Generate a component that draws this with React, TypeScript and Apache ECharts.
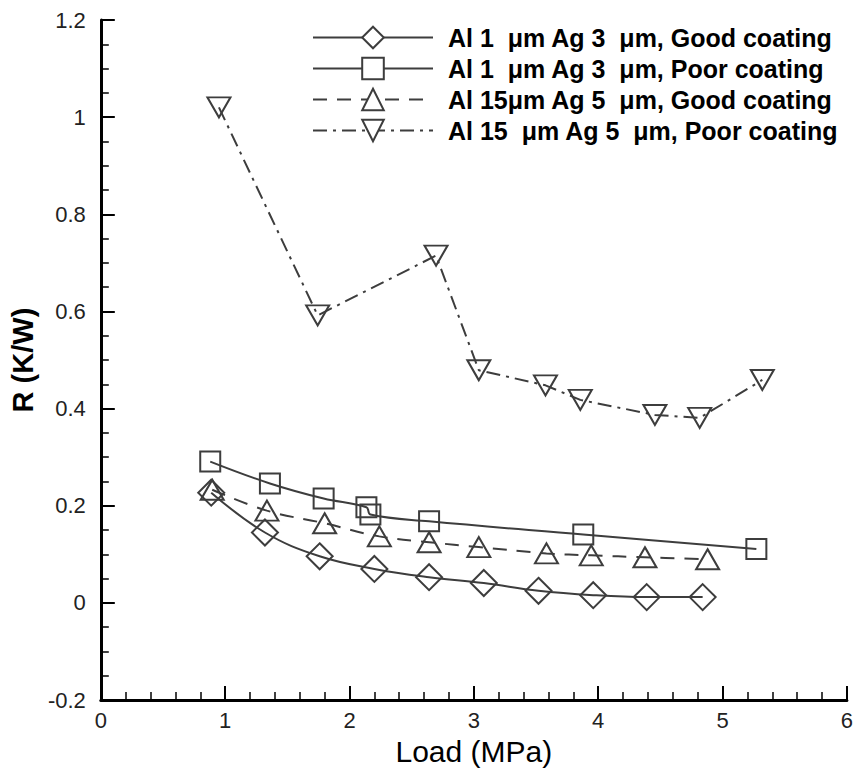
import React, { useEffect, useRef } from "react";
import * as echarts from "echarts";

const seriesNames = [
  "Al 1  μm Ag 3  μm, Good coating",
  "Al 1  μm Ag 3  μm, Poor coating",
  "Al 15μm Ag 5  μm, Good coating",
  "Al 15  μm Ag 5  μm, Poor coating",
];

// Al 1 µm Ag 3 µm, Good coating (diamonds)
const goodThinX = [0.888, 1.32, 1.76, 2.2, 2.64, 3.08, 3.52, 3.96, 4.39, 4.84];
const goodThinY = [0.227, 0.145, 0.096, 0.07, 0.053, 0.041, 0.025, 0.016, 0.012, 0.012];

// Al 1 µm Ag 3 µm, Poor coating (squares)
const poorThinX = [0.88, 1.36, 1.792, 2.136, 2.168, 2.64, 3.88, 5.272];
const poorThinY = [0.291, 0.246, 0.215, 0.197, 0.182, 0.168, 0.141, 0.111];

// Al 15 µm Ag 5 µm, Good coating (triangles)
const goodThickX = [0.896, 1.336, 1.8, 2.24, 2.64, 3.04, 3.584, 3.944, 4.376, 4.88];
const goodThickY = [0.233, 0.19, 0.164, 0.137, 0.125, 0.115, 0.102, 0.098, 0.094, 0.09];

// Al 15 µm Ag 5 µm, Poor coating (inverted triangles)
const poorThickX = [0.95, 1.744, 2.696, 3.04, 3.576, 3.856, 4.456, 4.816, 5.32];
const poorThickY = [1.02, 0.592, 0.715, 0.479, 0.448, 0.418, 0.387, 0.381, 0.459];

const xTicks = [0, 1, 2, 3, 4, 5, 6];
const yTicks = [-0.2, 0, 0.2, 0.4, 0.6, 0.8, 1, 1.2];

const pair = (xs: number[], ys: number[]) => xs.map((x, i) => [x, ys[i]]);

const LINE = "#3d3d3d";
const FONT = "Liberation Sans, Arial, sans-serif";

export default function App() {
  const ref = useRef<HTMLDivElement>(null);
  useEffect(() => {
    if (!ref.current) return;
    document.body.style.margin = "0";
    const chart = echarts.init(ref.current, undefined, { renderer: "svg" });
    const common = (name: string, xs: number[], ys: number[]) => ({
      name,
      type: "line",
      data: pair(xs, ys),
      showSymbol: true,
      showAllSymbol: true,
      itemStyle: { color: "rgba(255,255,255,0)", borderColor: LINE, borderWidth: 2 },
      emphasis: { disabled: true },
    });
    chart.setOption({
      animation: false,
      backgroundColor: "#ffffff",
      grid: { left: 98, right: 8, top: 20, bottom: 66, containLabel: false },
      legend: {
        orient: "vertical",
        left: 307,
        top: 20,
        itemWidth: 120,
        itemHeight: 27,
        itemGap: 6,
        itemStyle: { color: "#ffffff", borderColor: LINE, borderWidth: 2 },
        textStyle: {
          fontFamily: FONT,
          fontWeight: "bold",
          fontSize: 25,
          color: "#000",
          padding: [0, 0, 0, 10],
        },
        data: seriesNames,
      },
      xAxis: {
        type: "value",
        min: xTicks[0],
        max: xTicks[xTicks.length - 1],
        interval: 1,
        name: "Load (MPa)",
        nameLocation: "middle",
        nameGap: 30,
        nameTextStyle: { fontFamily: FONT, fontSize: 30, color: "#000" },
        axisLine: { show: true, onZero: false, lineStyle: { color: "#000", width: 3 } },
        axisTick: { show: true, inside: true, length: 14, lineStyle: { color: "#000", width: 2 } },
        minorTick: { show: true, splitNumber: 5, length: 8, lineStyle: { color: "#000", width: 1.5 } },
        axisLabel: { fontFamily: FONT, fontSize: 22, color: "#222", margin: 9 },
        splitLine: { show: false },
      },
      yAxis: {
        type: "value",
        min: yTicks[0],
        max: yTicks[yTicks.length - 1],
        interval: 0.2,
        name: "R (K/W)",
        nameLocation: "middle",
        nameRotate: 90,
        nameGap: 55,
        nameTextStyle: { fontFamily: FONT, fontSize: 29, fontWeight: "bold", color: "#000" },
        axisLine: { show: true, onZero: false, lineStyle: { color: "#000", width: 3 } },
        axisTick: { show: true, inside: true, length: 14, lineStyle: { color: "#000", width: 2 } },
        minorTick: { show: true, splitNumber: 4, length: 8, lineStyle: { color: "#000", width: 1.5 } },
        axisLabel: {
          fontFamily: FONT,
          fontSize: 22,
          color: "#222",
          margin: 15,
          formatter: (v: number) => String(Math.round(v * 10) / 10),
        },
        splitLine: { show: false },
      },
      series: [
        {
          ...common(seriesNames[0], goodThinX, goodThinY),
          symbol: "diamond",
          symbolSize: 26,
          smooth: 0.4,
          lineStyle: { color: LINE, width: 2, type: "solid" },
        },
        {
          ...common(seriesNames[1], poorThinX, poorThinY),
          symbol: "rect",
          symbolSize: 20,
          smooth: 0.4,
          lineStyle: { color: LINE, width: 2, type: "solid" },
        },
        {
          ...common(seriesNames[2], goodThickX, goodThickY),
          symbol: "triangle",
          symbolSize: [23, 20],
          smooth: 0.4,
          lineStyle: { color: LINE, width: 2, type: [14, 10] },
        },
        {
          ...common(seriesNames[3], poorThickX, poorThickY),
          symbol: "triangle",
          symbolRotate: 180,
          symbolSize: [23, 20],
          smooth: false,
          lineStyle: { color: LINE, width: 2, type: [14, 6, 3, 6] },
        },
      ],
    });
    return () => chart.dispose();
  }, []);
  return <div ref={ref} style={{ width: 856, height: 771 }} />;
}
